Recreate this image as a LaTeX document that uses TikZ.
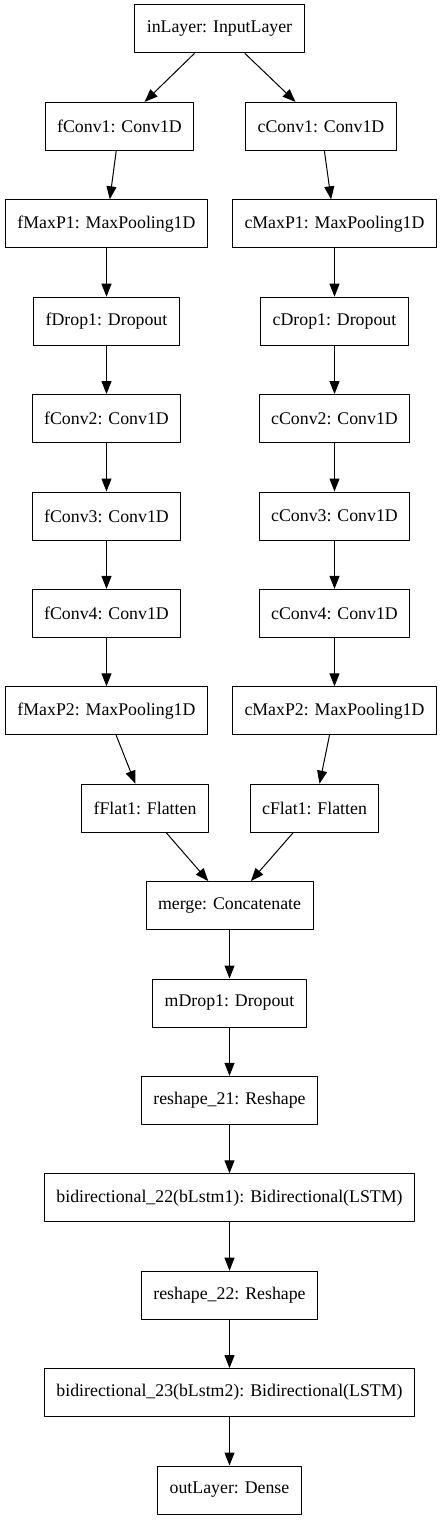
\documentclass[tikz,border=0pt]{standalone}
\usepackage{fontspec}
\setmainfont{Liberation Serif}
\usetikzlibrary{arrows.meta,positioning}

\begin{document}
\begin{tikzpicture}[x=1pt, y=1pt, line cap=round, line join=round,
	layer/.style={draw, line width=1pt, rectangle, minimum height=48pt, inner xsep=12pt,
		font=\fontsize{17.8pt}{20pt}\selectfont},
	flow/.style={line width=1pt, -{Triangle[length=13pt, width=10pt]}}]
	\useasboundingbox (0,0) rectangle (443,-1520);

	\node[layer] (inLayer) at (219.5,-29) {inLayer: InputLayer};

	\node[layer] (fConv1) at (119.5,-126.4) {fConv1: Conv1D};
	\node[layer] (fMaxP1) at (106.5,-223.8) {fMaxP1: MaxPooling1D};
	\node[layer] (fDrop1) at (106.5,-321.2) {fDrop1: Dropout};
	\node[layer] (fConv2) at (106.5,-418.6) {fConv2: Conv1D};
	\node[layer] (fConv3) at (106.5,-516) {fConv3: Conv1D};
	\node[layer] (fConv4) at (106.5,-613.4) {fConv4: Conv1D};
	\node[layer] (fMaxP2) at (106.5,-710.8) {fMaxP2: MaxPooling1D};
	\node[layer] (fFlat1) at (145,-808.2) {fFlat1: Flatten};

	\node[layer] (cConv1) at (321,-126.4) {cConv1: Conv1D};
	\node[layer] (cMaxP1) at (334.5,-223.8) {cMaxP1: MaxPooling1D};
	\node[layer] (cDrop1) at (334.5,-321.2) {cDrop1: Dropout};
	\node[layer] (cConv2) at (334.5,-418.6) {cConv2: Conv1D};
	\node[layer] (cConv3) at (334.5,-516) {cConv3: Conv1D};
	\node[layer] (cConv4) at (334.5,-613.4) {cConv4: Conv1D};
	\node[layer] (cMaxP2) at (334.5,-710.8) {cMaxP2: MaxPooling1D};
	\node[layer] (cFlat1) at (314.5,-808.2) {cFlat1: Flatten};

	\node[layer] (merge) at (229.5,-905.6) {merge: Concatenate};
	\node[layer] (mDrop1) at (229.5,-1003) {mDrop1: Dropout};
	\node[layer] (reshape21) at (229.5,-1100.4) {reshape\_21: Reshape};
	\node[layer] (bLstm1) at (229.5,-1197.8) {bidirectional\_22(bLstm1): Bidirectional(LSTM)};
	\node[layer] (reshape22) at (229.5,-1295.2) {reshape\_22: Reshape};
	\node[layer] (bLstm2) at (229.5,-1392.6) {bidirectional\_23(bLstm2): Bidirectional(LSTM)};
	\node[layer] (outLayer) at (229.5,-1490) {outLayer: Dense};

	\draw[flow] (inLayer) -- (fConv1);
	\draw[flow] (inLayer) -- (cConv1);

	\draw[flow] (fConv1) -- (fMaxP1);
	\draw[flow] (fMaxP1) -- (fDrop1);
	\draw[flow] (fDrop1) -- (fConv2);
	\draw[flow] (fConv2) -- (fConv3);
	\draw[flow] (fConv3) -- (fConv4);
	\draw[flow] (fConv4) -- (fMaxP2);
	\draw[flow] (fMaxP2) -- (fFlat1);

	\draw[flow] (cConv1) -- (cMaxP1);
	\draw[flow] (cMaxP1) -- (cDrop1);
	\draw[flow] (cDrop1) -- (cConv2);
	\draw[flow] (cConv2) -- (cConv3);
	\draw[flow] (cConv3) -- (cConv4);
	\draw[flow] (cConv4) -- (cMaxP2);
	\draw[flow] (cMaxP2) -- (cFlat1);

	\draw[flow] (fFlat1) -- (merge);
	\draw[flow] (cFlat1) -- (merge);
	\draw[flow] (merge) -- (mDrop1);
	\draw[flow] (mDrop1) -- (reshape21);
	\draw[flow] (reshape21) -- (bLstm1);
	\draw[flow] (bLstm1) -- (reshape22);
	\draw[flow] (reshape22) -- (bLstm2);
	\draw[flow] (bLstm2) -- (outLayer);
\end{tikzpicture}
\end{document}
